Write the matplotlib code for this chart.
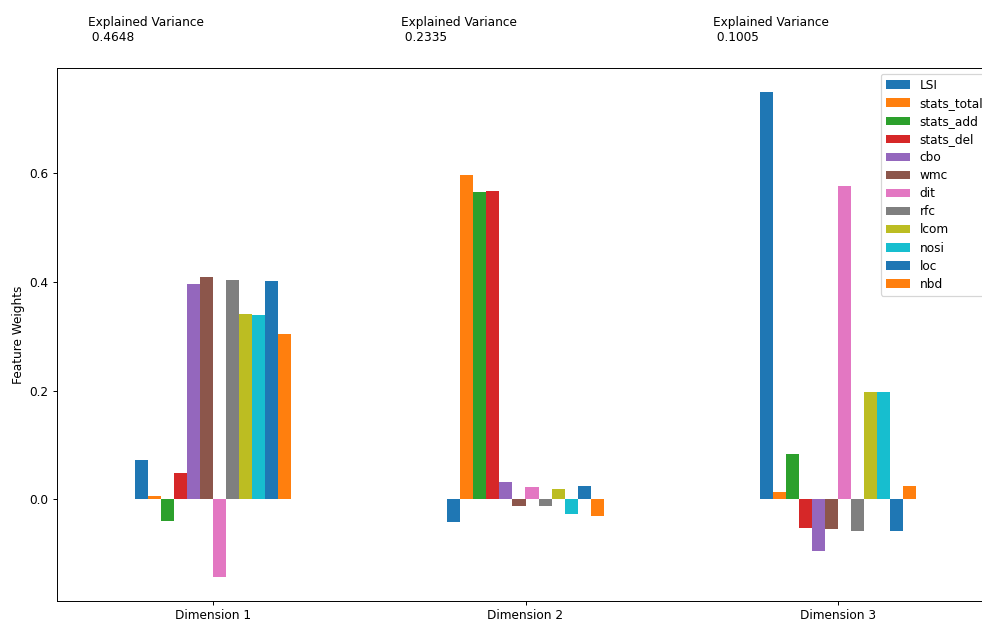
import matplotlib
matplotlib.use("Agg")
import matplotlib.pyplot as plt
import pandas as pd

dimensions = ["Dimension 1", "Dimension 2", "Dimension 3"]
features = ["LSI", "stats_total", "stats_add", "stats_del", "cbo", "wmc",
            "dit", "rfc", "lcom", "nosi", "loc", "nbd"]
explained_variance = [0.4648, 0.2335, 0.1005]

dim1 = [0.0723, 0.0053, -0.0408, 0.0487, 0.396, 0.409,
        -0.1427, 0.4037, 0.342, 0.340, 0.4017, 0.305]
dim2 = [-0.042, 0.598, 0.565, 0.567, 0.0316, -0.013,
        0.0224, -0.013, 0.019, -0.0276, 0.025, -0.031]
dim3 = [0.7495, 0.013, 0.0828, -0.0526, -0.096, -0.0546,
        0.577, -0.059, 0.197, 0.197, -0.058, 0.0243]

components = pd.DataFrame([dim1, dim2, dim3], index=dimensions, columns=features)

DPI = 87
fig = plt.figure(figsize=(982 / DPI, 621 / DPI), dpi=DPI)
ax = fig.add_axes([57 / 982, 20 / 621, 937 / 982, 533 / 621])

components.plot(ax=ax, kind="bar")
ax.set_ylabel("Feature Weights")
ax.set_xticklabels(dimensions, rotation=0)
ax.legend(loc="upper right", labelspacing=0.42)

for i, ev in enumerate(explained_variance):
    ax.text(i - 0.40, ax.get_ylim()[1] + 0.05, "Explained Variance\n %.4f" % ev)

fig.savefig("out.png", dpi=DPI)
